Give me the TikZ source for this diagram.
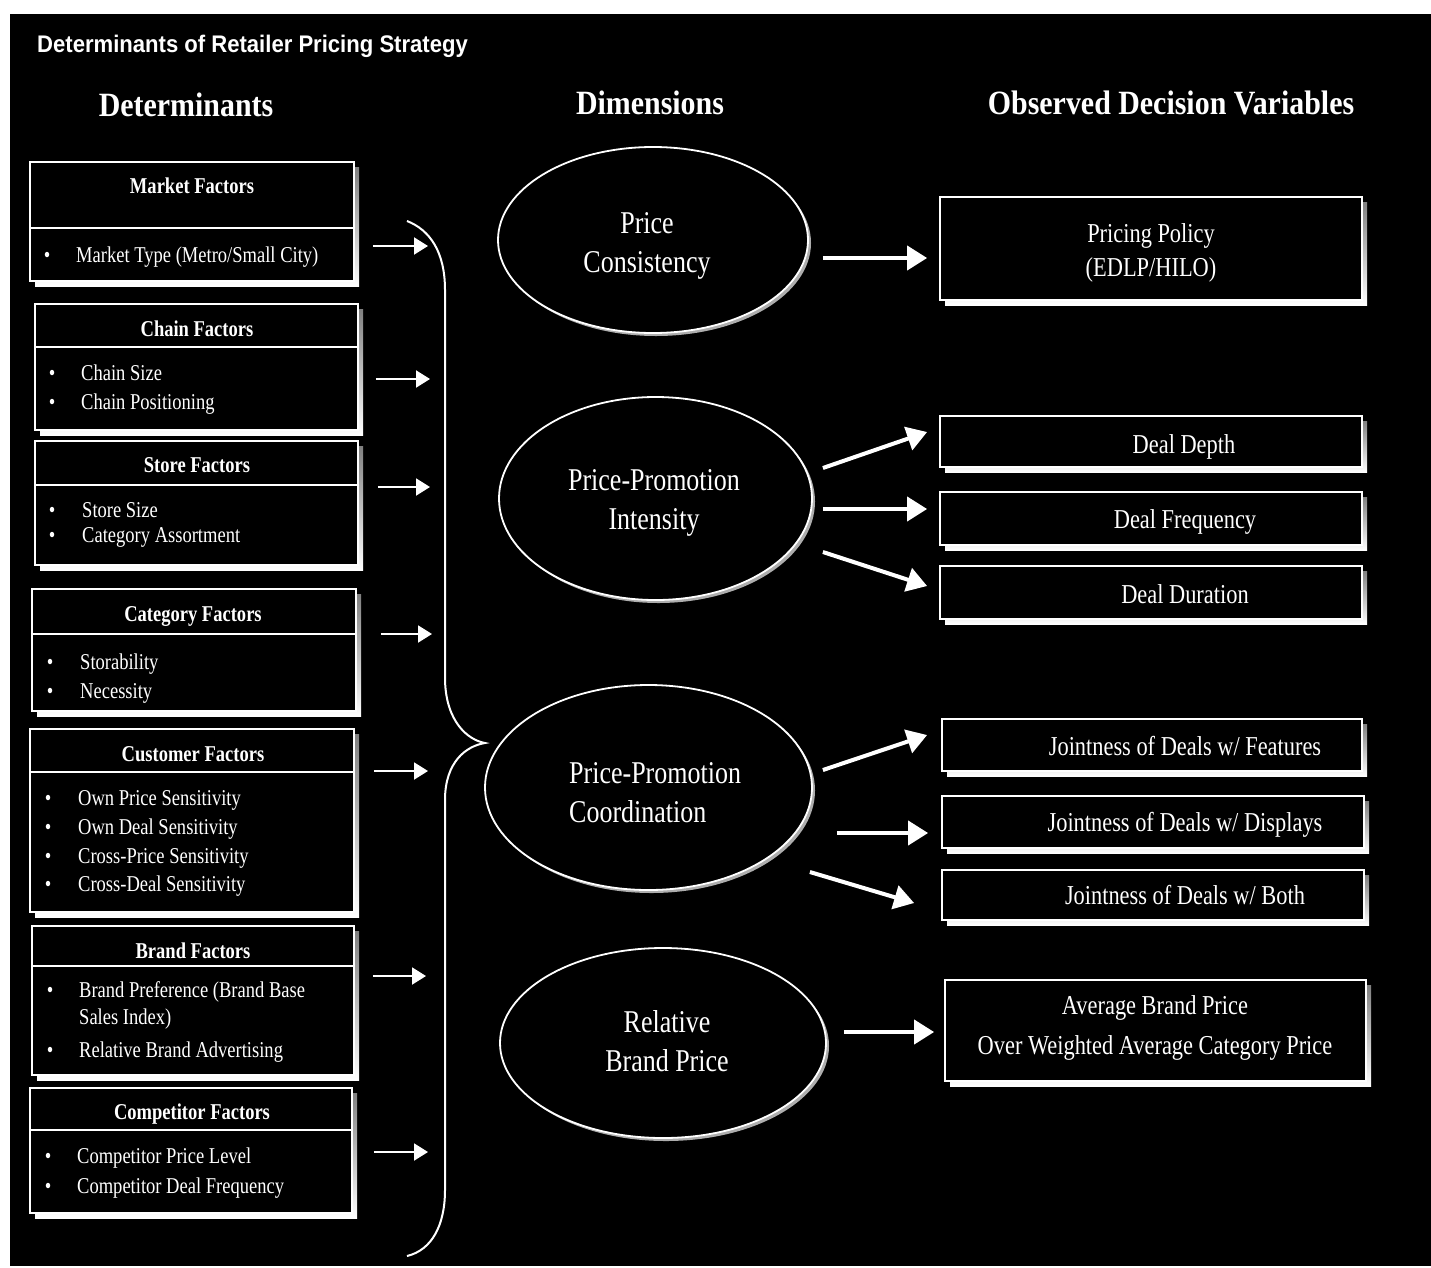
\documentclass[tikz,border=0pt]{standalone}
\usepackage{fontspec}
\setmainfont{Liberation Serif}[FakeStretch=0.82]
\newfontfamily\headserif{Liberation Serif}[FakeStretch=0.88]
\newfontfamily\headsans{Liberation Sans}[FakeStretch=0.92]
\usetikzlibrary{arrows.meta,shapes.geometric}

\definecolor{shade}{gray}{0.68}

\tikzset{
  framebox/.style={rectangle, draw=white, line width=1.8pt, fill=black, inner sep=0pt},
  frameline/.style={draw=white, line width=1.8pt},
  boxtitle/.style={text=white, inner sep=0pt, font=\fontsize{22.6}{27}\selectfont\bfseries},
  itemtext/.style={text=white, inner sep=0pt, font=\fontsize{22.6}{27}\selectfont},
  bul/.style={text=white, inner sep=0pt, font=\fontsize{22.6}{27}\selectfont},
  vartext/.style={text=white, inner sep=0pt, font=\fontsize{27.3}{33}\selectfont},
  colhead/.style={text=white, inner sep=0pt, font=\headserif\fontsize{34}{40}\selectfont\bfseries},
  dimell/.style={ellipse, draw=white, line width=1.8pt, fill=black, inner sep=0pt},
  dimtext/.style={text=white, align=center, inner sep=0pt, font=\fontsize{31.7}{39}\selectfont},
  dimshadow/.style={ellipse, fill=shade, inner sep=0pt},
  smallarrow/.style={draw=white, line width=2pt, -{Triangle[length=14pt, width=17pt]}},
  bigarrow/.style={draw=white, line width=4pt, -{Triangle[length=20pt, width=24pt]}},
  brace/.style={draw=white, line width=2pt}
}

% framed box with a drop shadow: name, left, top, right, bottom
\newcommand\shadowbox[5]{%
  \fill[shade] (#2+5,#3+5) rectangle (#4+5,#5+5);
  \node[framebox, minimum width={#4pt-#2pt}, minimum height={#5pt-#3pt}]
    (#1) at ({(#2+#4)/2},{(#3+#5)/2}) {};
}
% factor box: as above plus the rule under its heading
\newcommand\factorbox[6]{%
  \shadowbox{#1}{#2}{#3}{#4}{#5}%
  \draw[frameline] (#1.west |- 0,#6) -- (#1.east |- 0,#6);
}
% bulleted entry: name, bullet x, text x, baseline, text
\newcommand\bulletitem[5]{%
  \node[bul, anchor=base] (#1-b) at (#2,#4) {\textbullet};
  \node[itemtext, anchor=base west] (#1) at (#3,#4) {#5};
}
% dimension ellipse with shadow: name, centre x, centre y, width, height
\newcommand\dimension[5]{%
  \node[dimshadow, minimum width=#4pt, minimum height=#5pt] (#1-s) at (#2+3,#3+3) {};
  \node[dimell, minimum width=#4pt, minimum height=#5pt] (#1) at (#2,#3) {};
}

\begin{document}
\begin{tikzpicture}[x=1pt, y=-1pt]
\useasboundingbox (0,0) rectangle (1431,1267);
\fill[white] (0,0) rectangle (1431,1267);
\fill[black] (10,14) rectangle (1431,1266);

% title and column headings
\node[text=white, inner sep=0pt, anchor=base west,
      font=\headsans\fontsize{24}{28}\selectfont\bfseries] (title) at (37,52)
  {Determinants of Retailer Pricing Strategy};
\node[colhead, anchor=base] (h-det) at (186,116) {Determinants};
\node[colhead, anchor=base] (h-dim) at (650,114) {Dimensions};
\node[colhead, anchor=base] (h-obs) at (1171,114) {Observed Decision Variables};

% ---------- determinants ----------
\factorbox{market}{30}{162}{354}{281}{228}
\node[boxtitle, anchor=base] (market-t) at (192,193.5) {Market Factors};
\bulletitem{market-1}{47}{76}{262.5}{Market Type (Metro/Small City)}

\factorbox{chain}{35}{304}{358}{430}{347}
\node[boxtitle, anchor=base] (chain-t) at (197,336.5) {Chain Factors};
\bulletitem{chain-1}{52}{81}{380.5}{Chain Size}
\bulletitem{chain-2}{52}{81}{409.5}{Chain Positioning}

\factorbox{store}{35}{441}{358}{565}{485}
\node[boxtitle, anchor=base] (store-t) at (197,472.5) {Store Factors};
\bulletitem{store-1}{52}{82}{517.5}{Store Size}
\bulletitem{store-2}{52}{82}{542.5}{Category Assortment}

\factorbox{category}{32}{589}{356}{711}{634}
\node[boxtitle, anchor=base] (category-t) at (193,621.5) {Category Factors};
\bulletitem{category-1}{50}{80}{669.5}{Storability}
\bulletitem{category-2}{50}{80}{698.5}{Necessity}

\factorbox{customer}{30}{729}{354}{912}{772}
\node[boxtitle, anchor=base] (customer-t) at (193,761.5) {Customer Factors};
\bulletitem{customer-1}{48}{78}{805.5}{Own Price Sensitivity}
\bulletitem{customer-2}{48}{78}{834.5}{Own Deal Sensitivity}
\bulletitem{customer-3}{48}{78}{863.5}{Cross-Price Sensitivity}
\bulletitem{customer-4}{48}{78}{891.5}{Cross-Deal Sensitivity}

\factorbox{brand}{32}{926}{354}{1075}{966}
\node[boxtitle, anchor=base] (brand-t) at (193,958.5) {Brand Factors};
\bulletitem{brand-1}{50}{79}{997.5}{Brand Preference (Brand Base}
\node[itemtext, anchor=base west] (brand-1b) at (79,1024.5) {Sales Index)};
\bulletitem{brand-2}{50}{79}{1057.5}{Relative Brand Advertising}

\factorbox{comp}{30}{1088}{352}{1213}{1130}
\node[boxtitle, anchor=base] (comp-t) at (192,1119.5) {Competitor Factors};
\bulletitem{comp-1}{48}{77}{1163.5}{Competitor Price Level}
\bulletitem{comp-2}{48}{77}{1193.5}{Competitor Deal Frequency}

% arrows from the determinants into the brace
\coordinate (in1) at (428,246);
\coordinate (in2) at (430,379);
\coordinate (in3) at (430,487);
\coordinate (in4) at (432,634);
\coordinate (in5) at (428,771);
\coordinate (in6) at (426,976);
\coordinate (in7) at (428,1152);
\draw[smallarrow] (market.east |- in1) ++(18,0) -- (in1);
\draw[smallarrow] (chain.east |- in2) ++(17,0) -- (in2);
\draw[smallarrow] (store.east |- in3) ++(19,0) -- (in3);
\draw[smallarrow] (category.east |- in4) ++(24,0) -- (in4);
\draw[smallarrow] (customer.east |- in5) ++(19,0) -- (in5);
\draw[smallarrow] (brand.east |- in6) ++(18,0) -- (in6);
\draw[smallarrow] (comp.east |- in7) ++(21,0) -- (in7);

% brace gathering the determinants
\coordinate (brace-top) at (407,221);
\coordinate (brace-tip) at (485,743);
\coordinate (brace-bot) at (407,1256);
\draw[brace] (brace-top) .. controls (430,230) and (445,252) .. (445,290)
  -- (445,680) .. controls (446,722) and (468,740) .. (brace-tip)
  .. controls (466,746) and (445,762) .. (445,800)
  -- (445,1190) .. controls (445,1225) and (432,1250) .. (brace-bot);

% ---------- dimensions ----------
\dimension{pc}{653}{240}{310}{186}
\node[dimtext] (pc-t) at (647,245.5) {Price\\Consistency};
\dimension{ppi}{655.5}{498.5}{313}{203}
\node[dimtext] (ppi-t) at (654,502.5) {Price-Promotion\\Intensity};
\dimension{ppc}{648.5}{787.5}{327}{205}
\node[dimtext, align=left, anchor=west] (ppc-t) at (569,792.5) {Price-Promotion\\Coordination};
\dimension{rbp}{663}{1043}{326}{190}
\node[dimtext] (rbp-t) at (667,1041.5) {Relative\\Brand Price};

% ---------- observed decision variables ----------
\shadowbox{pp}{940}{197}{1362}{300}
\node[vartext, anchor=base] (pp-1) at (1151,242) {Pricing Policy};
\node[vartext, anchor=base] (pp-2) at (1151,276) {(EDLP/HILO)};

\shadowbox{depth}{940}{416}{1362}{467}
\node[vartext, anchor=base] (depth-t) at (1184,453) {Deal Depth};
\shadowbox{freq}{940}{492}{1362}{545}
\node[vartext, anchor=base] (freq-t) at (1185,528) {Deal Frequency};
\shadowbox{dur}{940}{566}{1362}{619}
\node[vartext, anchor=base] (dur-t) at (1185,603) {Deal Duration};

\shadowbox{feat}{942}{719}{1362}{771}
\node[vartext, anchor=base] (feat-t) at (1185,755) {Jointness of Deals w/ Features};
\shadowbox{disp}{942}{796}{1364}{848}
\node[vartext, anchor=base] (disp-t) at (1185,831) {Jointness of Deals w/ Displays};
\shadowbox{both}{942}{870}{1364}{920}
\node[vartext, anchor=base] (both-t) at (1185,904) {Jointness of Deals w/ Both};

\shadowbox{avg}{945}{980}{1366}{1081}
\node[vartext, anchor=base] (avg-1) at (1155,1014) {Average Brand Price};
\node[vartext, anchor=base] (avg-2) at (1155,1054) {Over Weighted Average Category Price};

% arrows from dimensions to decision variables
\draw[bigarrow] ([shift={(14,18)}]pc.east) -- ([shift={(-12,9.5)}]pp.west);
\draw[bigarrow] ([shift={(10,-30.5)}]ppi.east) -- ([shift={(-12,-9.5)}]depth.west);
\draw[bigarrow] ([shift={(10,10.5)}]ppi.east) -- ([shift={(-12,-9.5)}]freq.west);
\draw[bigarrow] ([shift={(10,53.5)}]ppi.east) -- ([shift={(-12,-6.5)}]dur.west);
\draw[bigarrow] ([shift={(10,-17.5)}]ppc.east) -- ([shift={(-14,-10)}]feat.west);
\draw[bigarrow] ([shift={(24,45.5)}]ppc.east) -- ([shift={(-13,11)}]disp.west);
\draw[bigarrow] ([shift={(-3,84.5)}]ppc.east) -- ([shift={(-27,8)}]both.west);
\draw[bigarrow] ([shift={(17,-11)}]rbp.east) -- ([shift={(-10,1.5)}]avg.west);
\end{tikzpicture}
\end{document}
